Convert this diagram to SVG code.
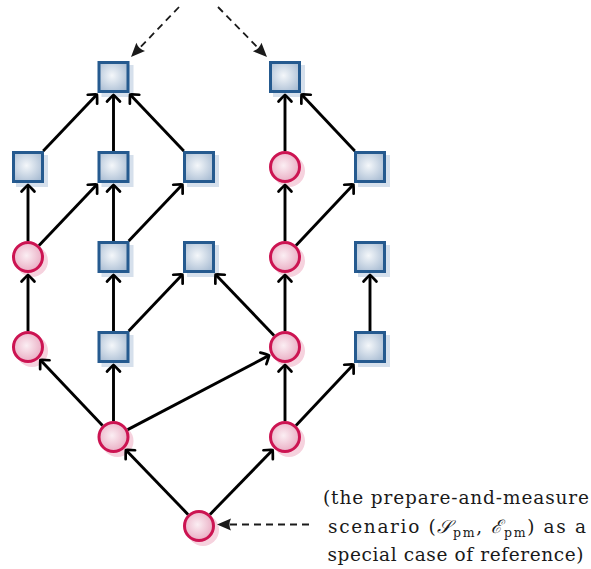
<svg xmlns="http://www.w3.org/2000/svg" width="591" height="569" viewBox="0 0 591 569">
<defs>
<radialGradient id="gs" cx="0.45" cy="0.45" r="0.7">
<stop offset="0" stop-color="#f4f7fa"/>
<stop offset="1" stop-color="#a3b8d0"/>
</radialGradient>
<radialGradient id="gc" cx="0.45" cy="0.45" r="0.65">
<stop offset="0" stop-color="#fbeef3"/>
<stop offset="1" stop-color="#e7a3bc"/>
</radialGradient>
<path id="ah" d="M-6.5,-6.5 Q-1.6,-1.9 0,0 Q-1.6,1.9 -6.5,6.5" fill="none" stroke="#000" stroke-width="2.7" stroke-linecap="round" stroke-linejoin="round"/>
<path id="lt" d="M0,0 L-14,-6 Q-11,0 -14,6 Z" fill="#1a1a1a"/>
</defs>
<style>
.sq{fill:url(#gs);stroke:#255a8f;stroke-width:3}
.sqs{fill:#d6e0ec}
.ci{fill:url(#gc);stroke:#cc1452;stroke-width:3}
.cis{fill:#f6d2de}
.e{stroke:#000;stroke-width:2.9;fill:none}
.d{stroke:#1a1a1a;stroke-width:1.8;fill:none;stroke-dasharray:7 5}
.t{font-family:"DejaVu Serif","Liberation Serif",serif;font-size:18.5px;fill:#1a1a1a;text-anchor:middle}
</style>

<g id="nB1"><rect class="sqs" x="101.5" y="65" width="32" height="32"/><rect class="sq" x="99" y="62.5" width="29" height="29"/></g>
<g id="nD1"><rect class="sqs" x="273" y="65" width="32" height="32"/><rect class="sq" x="270.5" y="62.5" width="29" height="29"/></g>

<g id="nA2"><rect class="sqs" x="16" y="155" width="32" height="32"/><rect class="sq" x="13.5" y="152.5" width="29" height="29"/></g>
<g id="nB2"><rect class="sqs" x="101.5" y="155" width="32" height="32"/><rect class="sq" x="99" y="152.5" width="29" height="29"/></g>
<g id="nC2"><rect class="sqs" x="187" y="155" width="32" height="32"/><rect class="sq" x="184.5" y="152.5" width="29" height="29"/></g>
<g id="nD2"><circle class="cis" cx="289" cy="171" r="16"/><circle class="ci" cx="285" cy="167" r="14.5"/></g>
<g id="nE2"><rect class="sqs" x="358" y="155" width="32" height="32"/><rect class="sq" x="355.5" y="152.5" width="29" height="29"/></g>

<g id="nA3"><circle class="cis" cx="32" cy="261" r="16"/><circle class="ci" cx="28" cy="257" r="14.5"/></g>
<g id="nB3"><rect class="sqs" x="101.5" y="245" width="32" height="32"/><rect class="sq" x="99" y="242.5" width="29" height="29"/></g>
<g id="nC3"><rect class="sqs" x="187" y="245" width="32" height="32"/><rect class="sq" x="184.5" y="242.5" width="29" height="29"/></g>
<g id="nD3"><circle class="cis" cx="289" cy="261" r="16"/><circle class="ci" cx="285" cy="257" r="14.5"/></g>
<g id="nE3"><rect class="sqs" x="358" y="245" width="32" height="32"/><rect class="sq" x="355.5" y="242.5" width="29" height="29"/></g>

<g id="nA4"><circle class="cis" cx="32" cy="351" r="16"/><circle class="ci" cx="28" cy="347" r="14.5"/></g>
<g id="nB4"><rect class="sqs" x="101.5" y="335" width="32" height="32"/><rect class="sq" x="99" y="332.5" width="29" height="29"/></g>
<g id="nD4"><circle class="cis" cx="289" cy="351" r="16"/><circle class="ci" cx="285" cy="347" r="14.5"/></g>
<g id="nE4"><rect class="sqs" x="358" y="335" width="32" height="32"/><rect class="sq" x="355.5" y="332.5" width="29" height="29"/></g>

<g id="nB5"><circle class="cis" cx="117.5" cy="441" r="16"/><circle class="ci" cx="113.5" cy="437" r="14.5"/></g>
<g id="nD5"><circle class="cis" cx="289" cy="441" r="16"/><circle class="ci" cx="285" cy="437" r="14.5"/></g>

<g id="nC6"><circle class="cis" cx="203" cy="530" r="16"/><circle class="ci" cx="199" cy="526" r="14.5"/></g>

<g id="connectors">
<line class="e" x1="188" y1="514.4" x2="126.6" y2="450.7"/>
<use href="#ah" transform="translate(125.9,450) rotate(-133.5)"/>
<line class="e" x1="210" y1="514.4" x2="271.9" y2="450.7"/>
<use href="#ah" transform="translate(272.6,450) rotate(-46.5)"/>
<line class="e" x1="102.5" y1="425.4" x2="41.1" y2="360.7"/>
<use href="#ah" transform="translate(40.4,360) rotate(-133.5)"/>
<line class="e" x1="113.5" y1="421" x2="113.5" y2="366"/>
<use href="#ah" transform="translate(113.5,365) rotate(-90)"/>
<line class="e" x1="127.7" y1="429.6" x2="268.2" y2="355.9"/>
<use href="#ah" transform="translate(269.1,355.4) rotate(-27.7)"/>
<line class="e" x1="285" y1="421" x2="285" y2="366"/>
<use href="#ah" transform="translate(285,365) rotate(-90)"/>
<line class="e" x1="296" y1="425.4" x2="352.7" y2="365.2"/>
<use href="#ah" transform="translate(353.4,364.5) rotate(-46.5)"/>
<line class="e" x1="28" y1="331" x2="28" y2="276"/>
<use href="#ah" transform="translate(28,275) rotate(-90)"/>
<line class="e" x1="113.5" y1="331" x2="113.5" y2="276"/>
<use href="#ah" transform="translate(113.5,275) rotate(-90)"/>
<line class="e" x1="128.7" y1="331" x2="181.7" y2="275.2"/>
<use href="#ah" transform="translate(182.4,274.5) rotate(-46.5)"/>
<line class="e" x1="274" y1="335.4" x2="216.3" y2="275.2"/>
<use href="#ah" transform="translate(215.6,274.5) rotate(-133.5)"/>
<line class="e" x1="285" y1="331" x2="285" y2="276"/>
<use href="#ah" transform="translate(285,275) rotate(-90)"/>
<line class="e" x1="370" y1="331" x2="370" y2="276"/>
<use href="#ah" transform="translate(370,275) rotate(-90)"/>
<line class="e" x1="28" y1="241" x2="28" y2="186"/>
<use href="#ah" transform="translate(28,185) rotate(-90)"/>
<line class="e" x1="39" y1="245.4" x2="96.2" y2="185.2"/>
<use href="#ah" transform="translate(96.9,184.5) rotate(-46.5)"/>
<line class="e" x1="113.5" y1="241" x2="113.5" y2="186"/>
<use href="#ah" transform="translate(113.5,185) rotate(-90)"/>
<line class="e" x1="128.7" y1="241" x2="181.7" y2="185.2"/>
<use href="#ah" transform="translate(182.4,184.5) rotate(-46.5)"/>
<line class="e" x1="285" y1="241" x2="285" y2="186"/>
<use href="#ah" transform="translate(285,185) rotate(-90)"/>
<line class="e" x1="296" y1="245.4" x2="352.7" y2="185.2"/>
<use href="#ah" transform="translate(353.4,184.5) rotate(-46.5)"/>
<line class="e" x1="43.2" y1="151" x2="96.2" y2="95.2"/>
<use href="#ah" transform="translate(96.9,94.5) rotate(-46.5)"/>
<line class="e" x1="113.5" y1="151" x2="113.5" y2="96"/>
<use href="#ah" transform="translate(113.5,95) rotate(-90)"/>
<line class="e" x1="183.8" y1="151" x2="130.8" y2="95.2"/>
<use href="#ah" transform="translate(130.1,94.5) rotate(-133.5)"/>
<line class="e" x1="285" y1="151" x2="285" y2="96"/>
<use href="#ah" transform="translate(285,95) rotate(-90)"/>
<line class="e" x1="354.8" y1="151" x2="302.3" y2="95.2"/>
<use href="#ah" transform="translate(301.6,94.5) rotate(-133.5)"/>

<line class="d" x1="179" y1="7" x2="137" y2="50.8"/>
<use href="#lt" transform="translate(131,57) rotate(133.8)"/>
<line class="d" x1="218" y1="7" x2="261" y2="50.9"/>
<use href="#lt" transform="translate(267,57) rotate(45.6)"/>
<line class="d" x1="309" y1="524.5" x2="226" y2="524.5"/>
<use href="#lt" transform="translate(217,524.5) rotate(180)"/>
</g>

<g id="label">
<text class="t" x="456" y="504" textLength="266">(the prepare-and-measure</text>
<text class="t" x="457" y="533" textLength="258">scenario (<tspan font-style="italic">𝒮</tspan><tspan font-size="12.5" dy="4">pm</tspan><tspan dy="-4">, </tspan><tspan font-style="italic">ℰ</tspan><tspan font-size="12.5" dy="4">pm</tspan><tspan dy="-4">) as a</tspan></text>
<text class="t" x="455.5" y="561" textLength="256">special case of reference)</text>
</g>
</svg>
